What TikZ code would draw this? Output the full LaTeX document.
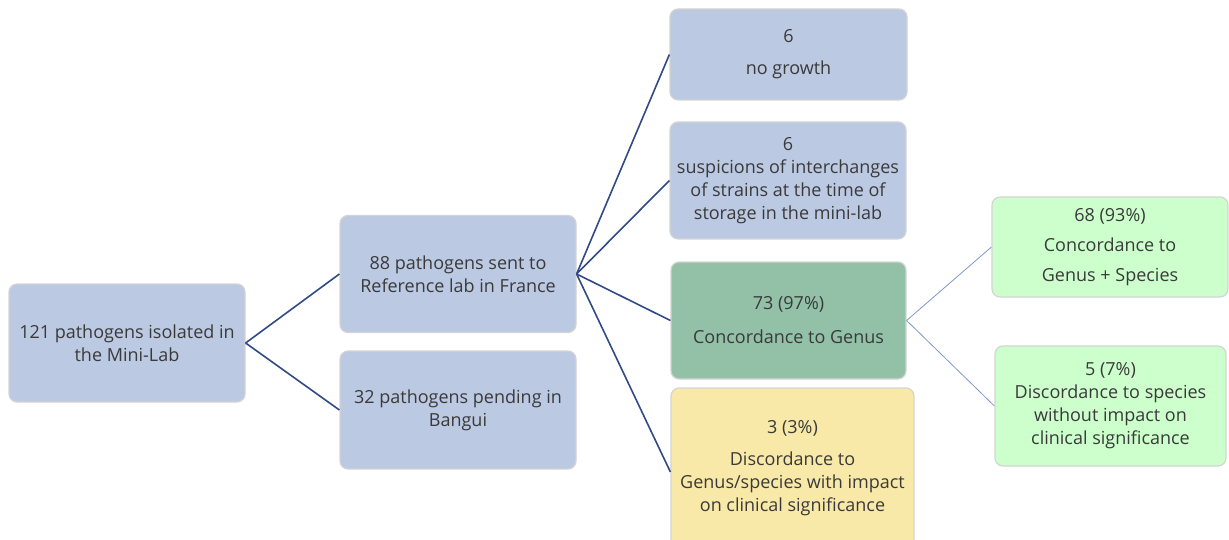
\documentclass[tikz,border=0pt]{standalone}
\usepackage{fontspec}
\setmainfont{Open Sans}
\definecolor{boxblue}{HTML}{BCC9E2}
\definecolor{boxgreen}{HTML}{93C1A8}
\definecolor{boxyellow}{HTML}{F8E9A9}
\definecolor{boxlight}{HTML}{CCFFCC}
\definecolor{edgegray}{HTML}{D4D4D4}
\definecolor{linkblue}{HTML}{2F4A85}
\definecolor{thinblue}{HTML}{7F97C9}
\definecolor{txt}{HTML}{3A3A3A}
\begin{document}
\begin{tikzpicture}[x=1pt,y=-1pt,
  box/.style={draw=edgegray, line width=1.2pt, rounded corners=8pt, text=txt,
    align=center, inner sep=0pt, font=\fontsize{18}{23}\selectfont},
  link/.style={draw=linkblue, line width=1.6pt},
  thinlink/.style={draw=thinblue, line width=0.8pt}]
\useasboundingbox (0,0) rectangle (1229,540);
\node[box, fill=boxblue, minimum width=236pt, minimum height=118pt] (a) at (127,343)
  {121 pathogens isolated in\\the Mini-Lab};
\node[box, fill=boxblue, minimum width=236pt, minimum height=117pt] (b) at (458,274)
  {88 pathogens sent to\\Reference lab in France};
\node[box, fill=boxblue, minimum width=236pt, minimum height=118pt] (c) at (458,410)
  {32 pathogens pending in\\Bangui};
\node[box, fill=boxblue, minimum width=237pt, minimum height=91pt] (d) at (788.5,54.5)
  {6\\[9pt]no growth};
\node[box, fill=boxblue, minimum width=236pt, minimum height=117pt] (e) at (788,180.5)
  {6\\suspicions of interchanges\\of strains at the time of\\storage in the mini-lab};
\node[box, fill=boxgreen, minimum width=235pt, minimum height=117pt] (f) at (788.5,320.5)
  {73 (97\%)\\[11pt]Concordance to Genus};
\node[box, fill=boxyellow, minimum width=243pt, minimum height=160pt] (g) at (792.5,468)
  {3 (3\%)\\[9pt]Discordance to\\Genus/species with impact\\on clinical significance};
\node[box, fill=boxlight, minimum width=236pt, minimum height=100pt] (h) at (1110,247)
  {68 (93\%)\\[7pt]Concordance to\\[7pt]Genus + Species};
\node[box, fill=boxlight, minimum width=231pt, minimum height=120pt] (i) at (1110.5,406)
  {5 (7\%)\\Discordance to species\\without impact on\\clinical significance};
\draw[link] (a.east) -- (b.west);
\draw[link] (a.east) -- (c.west);
\draw[link] (b.east) -- (d.west);
\draw[link] (b.east) -- (e.west);
\draw[link] (b.east) -- (f.west);
\draw[link] (b.east) -- ([yshift=-4pt]g.west);
\draw[thinlink] (f.east) -- (h.west);
\draw[thinlink] (f.east) -- (i.west);
\end{tikzpicture}
\end{document}
